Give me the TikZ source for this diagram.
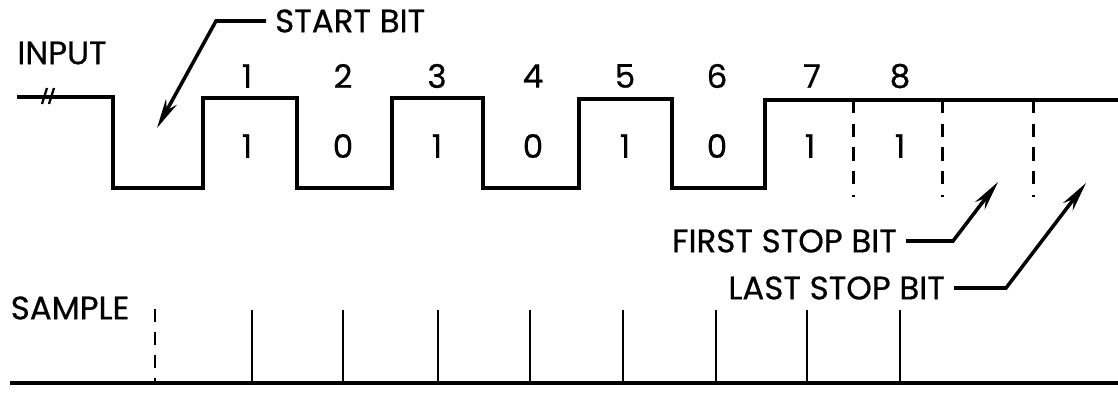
\documentclass[tikz,border=0pt]{standalone}
\usepackage{fontspec}
\setmainfont{Poppins}[FakeBold=0.6]
\usetikzlibrary{arrows.meta}

\begin{document}
\begin{tikzpicture}[x=0.02cm, y=-0.02cm,
      wave/.style={line width=2.1pt, line join=miter},
      tick/.style={line width=1.5pt},
      stopline/.style={line width=1.7pt, dash pattern=on 7.5pt off 6pt},
      lead/.style={line width=2pt, line join=miter, -{Stealth[length=17pt, width=7pt]}},
      lbl/.style={font=\fontsize{18.5}{21}\selectfont, inner sep=0pt},
      note/.style={lbl, inner xsep=5pt}]
  \useasboundingbox (0,0) rectangle (1118,392);
  % input line
  \draw[wave] (17,97) -| (113,188) -| (203,98) -| (297,188) -| (392,98) -| (483,188)
    -| (579,99) -| (672,188) -| (765,100) -- (1118,100);
  \draw[line width=1.3pt] (42,104) -- (47,88) (49,104) -- (54,88);
  \foreach \x in {853,942,1033} \draw[stopline] (\x,100) -- (\x,197);
  \node[lbl] (input) at (62,53) {INPUT};
  \foreach \n/\x in {1/247,2/343,3/437,4/533,5/625,6/717,7/812,8/900}
    \node[lbl] (n\n) at (\x,76) {\n};
  \foreach \v/\x [count=\i] in {1/247,0/343,1/437,0/533,1/625,0/717,1/810,1/900}
    \node[lbl] (v\i) at (\x,146) {\v};
  % callouts
  \coordinate (startTip) at (157,128);
  \coordinate (firstTip) at (998,182);
  \coordinate (lastTip) at (1086,183);
  \node[note, anchor=west] (start) at (266,21) {START BIT};
  \node[note, anchor=east] (first) at (906,241) {FIRST STOP BIT};
  \node[note, anchor=east] (last) at (954,288) {LAST STOP BIT};
  \draw[lead] (start.west) -- ++(-50,0) -- (startTip);
  \draw[lead] (first.east) -- ++(47,0) -- (firstTip);
  \draw[lead] (last.east) -- ++(52,0) -- (lastTip);
  % sample line
  \node[lbl] (sample) at (70,308) {SAMPLE};
  \draw[wave] (10,383) -- (1118,383);
  \draw[tick, dash pattern=on 7.5pt off 5.5pt] (155,309) -- (155,383);
  \foreach \x in {252,343,438,530,623,716,807,900} \draw[tick] (\x,383) -- (\x,310);
\end{tikzpicture}
\end{document}
